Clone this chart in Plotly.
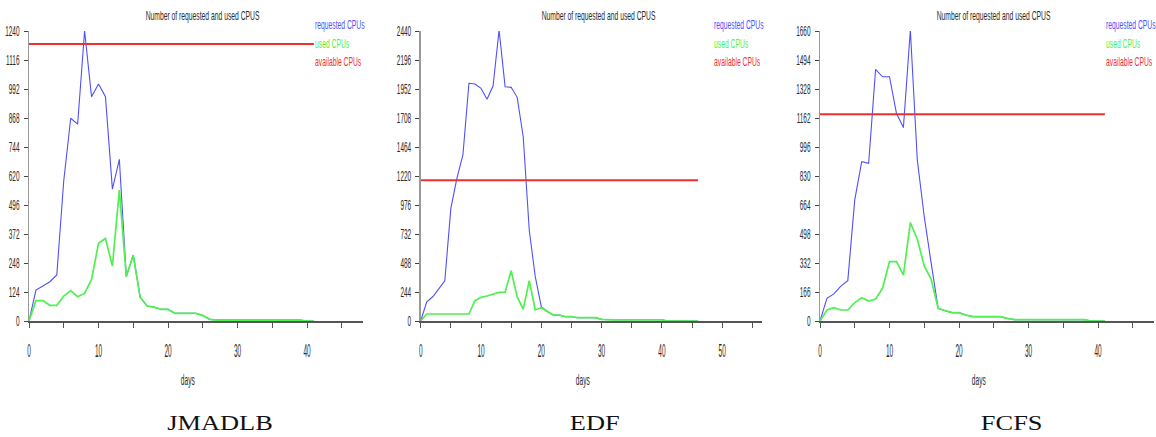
import plotly.graph_objects as go

W, H = 1156, 437

# ---------------- data ----------------
jm_days = list(range(0, 42))
jm_requested = [0, 132, 150, 168, 197, 600, 867, 842, 1240, 959, 1013, 959, 564, 691, 190,
                282, 101, 64, 59, 50, 50, 33, 33, 33, 33, 24, 7,
                4, 4, 4, 4, 4, 4, 4, 4, 4, 4, 4, 4, 4, 0, 0]
jm_used = [0, 87, 87, 67, 67, 107, 130, 104, 118, 178, 332, 353, 235, 560, 190,
           282, 101, 64, 59, 50, 50, 33, 33, 33, 33, 24, 7,
           4, 4, 4, 4, 4, 4, 4, 4, 4, 4, 4, 4, 4, 0, 0]

edf_days = list(range(0, 47))
edf_requested = [0, 162, 204, 275, 339, 948, 1200, 1397, 2000, 1994, 1958, 1865, 1977, 2448,
                 1971, 1966, 1882, 1550, 766, 373, 121, 78, 50, 50, 36, 36, 28, 28, 28, 28, 14,
                 10, 10, 10, 10, 10, 10, 10, 10, 10, 10, 0, 0, 0, 0, 0, 0]
edf_used = [0, 59, 59, 59, 59, 59, 59, 59, 59, 171, 199, 210, 224, 241, 242, 423, 205, 98,
            339, 93, 112, 78, 50, 50, 36, 36, 28, 28, 28, 28, 14,
            10, 10, 10, 10, 10, 10, 10, 10, 10, 10, 0, 0, 0, 0, 0, 0]

fcfs_days = list(range(0, 42))
fcfs_requested = [0, 130, 155, 200, 231, 693, 912, 903, 1441, 1398, 1398, 1189, 1107, 1666,
                  922, 597, 330, 73, 59, 48, 48, 34, 25, 25, 25, 25, 25, 14,
                  8, 8, 8, 8, 8, 8, 8, 8, 8, 8, 8, 0, 0, 0]
fcfs_used = [0, 63, 76, 63, 63, 105, 133, 114, 126, 187, 340, 340, 263, 563, 468, 315, 239,
             73, 59, 48, 48, 34, 25, 25, 25, 25, 25, 14,
             8, 8, 8, 8, 8, 8, 8, 8, 8, 8, 8, 0, 0, 0]

available_cpus = 1184
available_end = [41, 46, 41]

y_ticks = [
    [0, 124, 248, 372, 496, 620, 744, 868, 992, 1116, 1240],
    [0, 244, 488, 732, 976, 1220, 1464, 1708, 1952, 2196, 2440],
    [0, 166, 332, 498, 664, 830, 996, 1162, 1328, 1494, 1660],
]
x_ranges = [48, 56.55, 48]
x_tick_max = [45, 55, 45]
panel_names = ["JMADLB", "EDF", "FCFS"]
title_text = "Number of requested and used CPUS"
legend_names = ["requested CPUs", "used CPUs", "available CPUs"]

# ---------------- style ----------------
BLUE = "#5050f8"
GREEN = "#50f050"
RED = "#f03030"
TXT = "#2a2a2a"
SANS = "Liberation Sans, Arial, sans-serif"
SERIF = "Liberation Serif, Times New Roman, serif"


def px_x(p):
    return p / W


def px_y(p):
    return 1 - p / H


x_left_px = [29, 420.7, 820]
x_right_px = [362.6, 761.7, 1153.6]
y_bottom_px, y_top_px = 321, 31
title_cx = [202.5, 598.8, 993.8]
legend_x = [313, 712.3, 1104.3]
days_cx = [188, 582.7, 979]
name_cx = [219.7, 595, 1011]

fig = go.Figure()

panels = [
    (jm_days, jm_requested, jm_used),
    (edf_days, edf_requested, edf_used),
    (fcfs_days, fcfs_requested, fcfs_used),
]

annotations = []
for i, (days, req, used) in enumerate(panels):
    xa = "x" if i == 0 else f"x{i+1}"
    ya = "y" if i == 0 else f"y{i+1}"
    fig.add_trace(go.Scatter(x=days, y=req, mode="lines", line=dict(color=BLUE, width=1.1),
                             xaxis=xa, yaxis=ya, showlegend=False, cliponaxis=False,
                             hoverinfo="skip"))
    fig.add_trace(go.Scatter(x=days, y=used, mode="lines", line=dict(color=GREEN, width=1.7),
                             xaxis=xa, yaxis=ya, showlegend=False, cliponaxis=False,
                             hoverinfo="skip"))
    fig.add_trace(go.Scatter(x=[0, available_end[i]], y=[available_cpus, available_cpus],
                             mode="lines", line=dict(color=RED, width=2),
                             xaxis=xa, yaxis=ya, showlegend=False, cliponaxis=False,
                             hoverinfo="skip"))

    xtv = list(range(0, x_tick_max[i] + 1, 5))
    xtt = [str(v) if v % 10 == 0 else "" for v in xtv]
    xkey = "xaxis" if i == 0 else f"xaxis{i+1}"
    ykey = "yaxis" if i == 0 else f"yaxis{i+1}"
    fig.update_layout(**{
        xkey: dict(domain=[px_x(x_left_px[i]), px_x(x_right_px[i])], range=[0, x_ranges[i]],
                   anchor=ya, showgrid=False, zeroline=False, showline=True, automargin=False,
                   linecolor="#555555", linewidth=2, ticks="outside", ticklen=5,
                   tickcolor="#555555", tickwidth=1, tickvals=xtv, ticktext=xtt,
                   ticklabelstandoff=7,
                   tickfont=dict(family=SANS, size=18, color=TXT), fixedrange=True),
        ykey: dict(domain=[px_y(y_bottom_px), px_y(y_top_px)], range=[0, y_ticks[i][-1]],
                   anchor=xa, showgrid=False, zeroline=False, showline=True, automargin=False,
                   linecolor="#999999", linewidth=1.5, ticks="outside", ticklen=4,
                   tickcolor="#444444", tickwidth=1, tickvals=y_ticks[i],
                   ticktext=[str(v) for v in y_ticks[i]], ticklabelstandoff=1,
                   tickfont=dict(family=SANS, size=15, color=TXT), fixedrange=True),
    })

    annotations.append(dict(x=px_x(title_cx[i]), y=px_y(16), xref="paper", yref="paper",
                            text=title_text, showarrow=False, xanchor="center", yanchor="middle",
                            font=dict(family=SANS, size=13, color=TXT)))
    for k, (nm, col) in enumerate(zip(legend_names, [BLUE, GREEN, RED])):
        annotations.append(dict(x=px_x(legend_x[i]), y=px_y(24.3 + 18.7 * k), xref="paper",
                                yref="paper", text=nm, showarrow=False, xanchor="left",
                                align="left", yanchor="middle",
                                font=dict(family=SANS, size=13, color=col)))
    annotations.append(dict(x=px_x(days_cx[i]), y=px_y(380), xref="paper", yref="paper",
                            text="days", showarrow=False, xanchor="center", yanchor="middle",
                            font=dict(family=SANS, size=14, color=TXT)))
    annotations.append(dict(x=px_x(name_cx[i]), y=px_y(422), xref="paper", yref="paper",
                            text=panel_names[i], showarrow=False, xanchor="center",
                            yanchor="middle",
                            font=dict(family=SERIF, size=22, color="#111111")))

fig.update_layout(width=W, height=H, margin=dict(l=0, r=0, t=0, b=0, autoexpand=False),
                  paper_bgcolor="white", plot_bgcolor="white",
                  annotations=annotations, showlegend=False)

# page without body margin; horizontal squeeze of the condensed chart lettering
squeeze_js = """
document.body.style.margin = '0';
document.body.style.padding = '0';
document.documentElement.style.overflow = 'hidden';
var gd = document.getElementById('{plot_id}');
function sq(el, s){
  var base = el.getAttribute('data-base-tr');
  if (base === null){ base = el.getAttribute('transform') || ''; el.setAttribute('data-base-tr', base); }
  var bb = el.getBBox();
  var a = el.getAttribute('text-anchor') || window.getComputedStyle(el).textAnchor;
  var p = bb.x + bb.width / 2;
  if (a === 'end') p = bb.x + bb.width;
  else if (a === 'start') p = bb.x;
  el.setAttribute('transform', base + ' translate(' + p + ',0) scale(' + s + ',1) translate(' + (-p) + ',0)');
}
gd.querySelectorAll('.ytick text, .y2tick text, .y3tick text').forEach(function(el){ sq(el, 0.43); });
gd.querySelectorAll('.xtick text, .x2tick text, .x3tick text').forEach(function(el){ sq(el, 0.36); });
gd.querySelectorAll('.annotation-text').forEach(function(el){
  var fam = (el.style.fontFamily || '');
  var t = el.textContent;
  if (fam.indexOf('Serif') >= 0) sq(el, 1.2);
  else if (t === 'days') sq(el, 0.47);
  else sq(el, 0.52);
});
"""

fig.write_html("out.html", post_script=squeeze_js,
               config={"displayModeBar": False, "staticPlot": True})
